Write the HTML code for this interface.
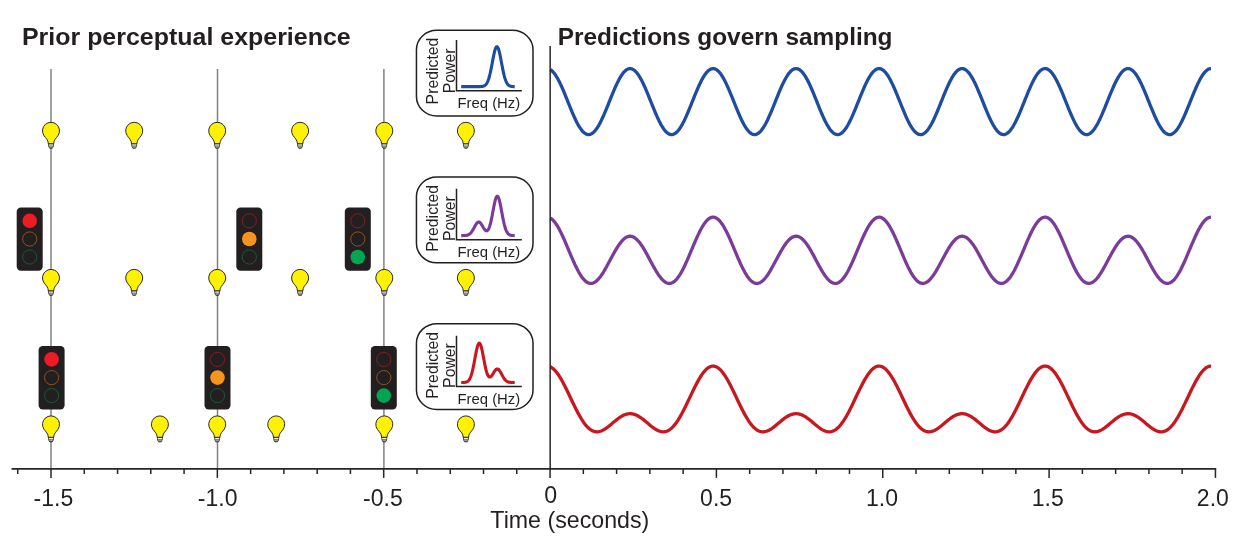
<!DOCTYPE html>
<html lang="en"><head><meta charset="utf-8"><title>Predictions govern sampling</title>
<style>html,body{margin:0;padding:0;background:#fff;overflow:hidden}svg{display:block}text{font-family:'Liberation Sans', 'DejaVu Sans', sans-serif;fill:#231f20}.b{font-weight:bold}</style></head><body>
<svg width="1243" height="538" viewBox="0 0 1243 538">
<rect width="1243" height="538" fill="#ffffff"/>
<line x1="51" y1="69" x2="51" y2="468.5" stroke="#808285" stroke-width="1.5"/>
<line x1="217.5" y1="69" x2="217.5" y2="468.5" stroke="#808285" stroke-width="1.5"/>
<line x1="383.9" y1="69" x2="383.9" y2="468.5" stroke="#808285" stroke-width="1.5"/>
<g transform="translate(29.7,207.4)">
<rect x="-13" y="0" width="26" height="63.4" rx="4.2" ry="4.2" fill="#231f20"/>
<circle cx="0" cy="13.4" r="7.3" fill="#ed1c24"/>
<circle cx="0" cy="31.6" r="7.1" fill="none" stroke="#a5661f" stroke-width="0.75"/>
<circle cx="0" cy="49.6" r="7.1" fill="none" stroke="#176b3c" stroke-width="0.75"/>
</g>
<g transform="translate(249.3,207.4)">
<rect x="-13" y="0" width="26" height="63.4" rx="4.2" ry="4.2" fill="#231f20"/>
<circle cx="0" cy="13.4" r="7.1" fill="none" stroke="#9a2329" stroke-width="0.75"/>
<circle cx="0" cy="31.6" r="7.3" fill="#f7941d"/>
<circle cx="0" cy="49.6" r="7.1" fill="none" stroke="#176b3c" stroke-width="0.75"/>
</g>
<g transform="translate(357.8,207.4)">
<rect x="-13" y="0" width="26" height="63.4" rx="4.2" ry="4.2" fill="#231f20"/>
<circle cx="0" cy="13.4" r="7.1" fill="none" stroke="#9a2329" stroke-width="0.75"/>
<circle cx="0" cy="31.6" r="7.1" fill="none" stroke="#a5661f" stroke-width="0.75"/>
<circle cx="0" cy="49.6" r="7.3" fill="#00a651"/>
</g>
<g transform="translate(51.6,346)">
<rect x="-13" y="0" width="26" height="63.4" rx="4.2" ry="4.2" fill="#231f20"/>
<circle cx="0" cy="13.4" r="7.3" fill="#ed1c24"/>
<circle cx="0" cy="31.6" r="7.1" fill="none" stroke="#a5661f" stroke-width="0.75"/>
<circle cx="0" cy="49.6" r="7.1" fill="none" stroke="#176b3c" stroke-width="0.75"/>
</g>
<g transform="translate(217.5,346)">
<rect x="-13" y="0" width="26" height="63.4" rx="4.2" ry="4.2" fill="#231f20"/>
<circle cx="0" cy="13.4" r="7.1" fill="none" stroke="#9a2329" stroke-width="0.75"/>
<circle cx="0" cy="31.6" r="7.3" fill="#f7941d"/>
<circle cx="0" cy="49.6" r="7.1" fill="none" stroke="#176b3c" stroke-width="0.75"/>
</g>
<g transform="translate(383.8,346)">
<rect x="-13" y="0" width="26" height="63.4" rx="4.2" ry="4.2" fill="#231f20"/>
<circle cx="0" cy="13.4" r="7.1" fill="none" stroke="#9a2329" stroke-width="0.75"/>
<circle cx="0" cy="31.6" r="7.1" fill="none" stroke="#a5661f" stroke-width="0.75"/>
<circle cx="0" cy="49.6" r="7.3" fill="#00a651"/>
</g>
<g transform="translate(51,130.8)">
<path d="M-2.6,12.6 L2.6,12.6 L2.3,15.6 L1.3,17.5 L-1.3,17.5 L-2.3,15.6 Z" fill="#7c7c7c" stroke="#262626" stroke-width="0.75" stroke-linejoin="round"/>
<path d="M-2,14.1 L2,14.1" stroke="#f2f2f2" stroke-width="1.1"/>
<path d="M-1.6,16 L1.6,16" stroke="#bdbdbd" stroke-width="0.6"/>
<path d="M-2.7,12.9 C-2.7,9.3 -5.24,7.34 -6.96,4.88 A8.5,8.5 0 1 1 6.96,4.88 C5.24,7.34 2.7,9.3 2.7,12.9 Z" fill="#fff200" stroke="#202020" stroke-width="0.95" stroke-linejoin="round"/>
</g>
<g transform="translate(134.2,130.8)">
<path d="M-2.6,12.6 L2.6,12.6 L2.3,15.6 L1.3,17.5 L-1.3,17.5 L-2.3,15.6 Z" fill="#7c7c7c" stroke="#262626" stroke-width="0.75" stroke-linejoin="round"/>
<path d="M-2,14.1 L2,14.1" stroke="#f2f2f2" stroke-width="1.1"/>
<path d="M-1.6,16 L1.6,16" stroke="#bdbdbd" stroke-width="0.6"/>
<path d="M-2.7,12.9 C-2.7,9.3 -5.24,7.34 -6.96,4.88 A8.5,8.5 0 1 1 6.96,4.88 C5.24,7.34 2.7,9.3 2.7,12.9 Z" fill="#fff200" stroke="#202020" stroke-width="0.95" stroke-linejoin="round"/>
</g>
<g transform="translate(217.2,130.8)">
<path d="M-2.6,12.6 L2.6,12.6 L2.3,15.6 L1.3,17.5 L-1.3,17.5 L-2.3,15.6 Z" fill="#7c7c7c" stroke="#262626" stroke-width="0.75" stroke-linejoin="round"/>
<path d="M-2,14.1 L2,14.1" stroke="#f2f2f2" stroke-width="1.1"/>
<path d="M-1.6,16 L1.6,16" stroke="#bdbdbd" stroke-width="0.6"/>
<path d="M-2.7,12.9 C-2.7,9.3 -5.24,7.34 -6.96,4.88 A8.5,8.5 0 1 1 6.96,4.88 C5.24,7.34 2.7,9.3 2.7,12.9 Z" fill="#fff200" stroke="#202020" stroke-width="0.95" stroke-linejoin="round"/>
</g>
<g transform="translate(300.1,130.8)">
<path d="M-2.6,12.6 L2.6,12.6 L2.3,15.6 L1.3,17.5 L-1.3,17.5 L-2.3,15.6 Z" fill="#7c7c7c" stroke="#262626" stroke-width="0.75" stroke-linejoin="round"/>
<path d="M-2,14.1 L2,14.1" stroke="#f2f2f2" stroke-width="1.1"/>
<path d="M-1.6,16 L1.6,16" stroke="#bdbdbd" stroke-width="0.6"/>
<path d="M-2.7,12.9 C-2.7,9.3 -5.24,7.34 -6.96,4.88 A8.5,8.5 0 1 1 6.96,4.88 C5.24,7.34 2.7,9.3 2.7,12.9 Z" fill="#fff200" stroke="#202020" stroke-width="0.95" stroke-linejoin="round"/>
</g>
<g transform="translate(384.3,130.8)">
<path d="M-2.6,12.6 L2.6,12.6 L2.3,15.6 L1.3,17.5 L-1.3,17.5 L-2.3,15.6 Z" fill="#7c7c7c" stroke="#262626" stroke-width="0.75" stroke-linejoin="round"/>
<path d="M-2,14.1 L2,14.1" stroke="#f2f2f2" stroke-width="1.1"/>
<path d="M-1.6,16 L1.6,16" stroke="#bdbdbd" stroke-width="0.6"/>
<path d="M-2.7,12.9 C-2.7,9.3 -5.24,7.34 -6.96,4.88 A8.5,8.5 0 1 1 6.96,4.88 C5.24,7.34 2.7,9.3 2.7,12.9 Z" fill="#fff200" stroke="#202020" stroke-width="0.95" stroke-linejoin="round"/>
</g>
<g transform="translate(465.9,130.8)">
<path d="M-2.6,12.6 L2.6,12.6 L2.3,15.6 L1.3,17.5 L-1.3,17.5 L-2.3,15.6 Z" fill="#7c7c7c" stroke="#262626" stroke-width="0.75" stroke-linejoin="round"/>
<path d="M-2,14.1 L2,14.1" stroke="#f2f2f2" stroke-width="1.1"/>
<path d="M-1.6,16 L1.6,16" stroke="#bdbdbd" stroke-width="0.6"/>
<path d="M-2.7,12.9 C-2.7,9.3 -5.24,7.34 -6.96,4.88 A8.5,8.5 0 1 1 6.96,4.88 C5.24,7.34 2.7,9.3 2.7,12.9 Z" fill="#fff200" stroke="#202020" stroke-width="0.95" stroke-linejoin="round"/>
</g>
<g transform="translate(51,277.9)">
<path d="M-2.6,12.6 L2.6,12.6 L2.3,15.6 L1.3,17.5 L-1.3,17.5 L-2.3,15.6 Z" fill="#7c7c7c" stroke="#262626" stroke-width="0.75" stroke-linejoin="round"/>
<path d="M-2,14.1 L2,14.1" stroke="#f2f2f2" stroke-width="1.1"/>
<path d="M-1.6,16 L1.6,16" stroke="#bdbdbd" stroke-width="0.6"/>
<path d="M-2.7,12.9 C-2.7,9.3 -5.24,7.34 -6.96,4.88 A8.5,8.5 0 1 1 6.96,4.88 C5.24,7.34 2.7,9.3 2.7,12.9 Z" fill="#fff200" stroke="#202020" stroke-width="0.95" stroke-linejoin="round"/>
</g>
<g transform="translate(134.2,277.9)">
<path d="M-2.6,12.6 L2.6,12.6 L2.3,15.6 L1.3,17.5 L-1.3,17.5 L-2.3,15.6 Z" fill="#7c7c7c" stroke="#262626" stroke-width="0.75" stroke-linejoin="round"/>
<path d="M-2,14.1 L2,14.1" stroke="#f2f2f2" stroke-width="1.1"/>
<path d="M-1.6,16 L1.6,16" stroke="#bdbdbd" stroke-width="0.6"/>
<path d="M-2.7,12.9 C-2.7,9.3 -5.24,7.34 -6.96,4.88 A8.5,8.5 0 1 1 6.96,4.88 C5.24,7.34 2.7,9.3 2.7,12.9 Z" fill="#fff200" stroke="#202020" stroke-width="0.95" stroke-linejoin="round"/>
</g>
<g transform="translate(217.2,277.9)">
<path d="M-2.6,12.6 L2.6,12.6 L2.3,15.6 L1.3,17.5 L-1.3,17.5 L-2.3,15.6 Z" fill="#7c7c7c" stroke="#262626" stroke-width="0.75" stroke-linejoin="round"/>
<path d="M-2,14.1 L2,14.1" stroke="#f2f2f2" stroke-width="1.1"/>
<path d="M-1.6,16 L1.6,16" stroke="#bdbdbd" stroke-width="0.6"/>
<path d="M-2.7,12.9 C-2.7,9.3 -5.24,7.34 -6.96,4.88 A8.5,8.5 0 1 1 6.96,4.88 C5.24,7.34 2.7,9.3 2.7,12.9 Z" fill="#fff200" stroke="#202020" stroke-width="0.95" stroke-linejoin="round"/>
</g>
<g transform="translate(300.1,277.9)">
<path d="M-2.6,12.6 L2.6,12.6 L2.3,15.6 L1.3,17.5 L-1.3,17.5 L-2.3,15.6 Z" fill="#7c7c7c" stroke="#262626" stroke-width="0.75" stroke-linejoin="round"/>
<path d="M-2,14.1 L2,14.1" stroke="#f2f2f2" stroke-width="1.1"/>
<path d="M-1.6,16 L1.6,16" stroke="#bdbdbd" stroke-width="0.6"/>
<path d="M-2.7,12.9 C-2.7,9.3 -5.24,7.34 -6.96,4.88 A8.5,8.5 0 1 1 6.96,4.88 C5.24,7.34 2.7,9.3 2.7,12.9 Z" fill="#fff200" stroke="#202020" stroke-width="0.95" stroke-linejoin="round"/>
</g>
<g transform="translate(384.3,277.9)">
<path d="M-2.6,12.6 L2.6,12.6 L2.3,15.6 L1.3,17.5 L-1.3,17.5 L-2.3,15.6 Z" fill="#7c7c7c" stroke="#262626" stroke-width="0.75" stroke-linejoin="round"/>
<path d="M-2,14.1 L2,14.1" stroke="#f2f2f2" stroke-width="1.1"/>
<path d="M-1.6,16 L1.6,16" stroke="#bdbdbd" stroke-width="0.6"/>
<path d="M-2.7,12.9 C-2.7,9.3 -5.24,7.34 -6.96,4.88 A8.5,8.5 0 1 1 6.96,4.88 C5.24,7.34 2.7,9.3 2.7,12.9 Z" fill="#fff200" stroke="#202020" stroke-width="0.95" stroke-linejoin="round"/>
</g>
<g transform="translate(465.9,277.9)">
<path d="M-2.6,12.6 L2.6,12.6 L2.3,15.6 L1.3,17.5 L-1.3,17.5 L-2.3,15.6 Z" fill="#7c7c7c" stroke="#262626" stroke-width="0.75" stroke-linejoin="round"/>
<path d="M-2,14.1 L2,14.1" stroke="#f2f2f2" stroke-width="1.1"/>
<path d="M-1.6,16 L1.6,16" stroke="#bdbdbd" stroke-width="0.6"/>
<path d="M-2.7,12.9 C-2.7,9.3 -5.24,7.34 -6.96,4.88 A8.5,8.5 0 1 1 6.96,4.88 C5.24,7.34 2.7,9.3 2.7,12.9 Z" fill="#fff200" stroke="#202020" stroke-width="0.95" stroke-linejoin="round"/>
</g>
<g transform="translate(51,424.4)">
<path d="M-2.6,12.6 L2.6,12.6 L2.3,15.6 L1.3,17.5 L-1.3,17.5 L-2.3,15.6 Z" fill="#7c7c7c" stroke="#262626" stroke-width="0.75" stroke-linejoin="round"/>
<path d="M-2,14.1 L2,14.1" stroke="#f2f2f2" stroke-width="1.1"/>
<path d="M-1.6,16 L1.6,16" stroke="#bdbdbd" stroke-width="0.6"/>
<path d="M-2.7,12.9 C-2.7,9.3 -5.24,7.34 -6.96,4.88 A8.5,8.5 0 1 1 6.96,4.88 C5.24,7.34 2.7,9.3 2.7,12.9 Z" fill="#fff200" stroke="#202020" stroke-width="0.95" stroke-linejoin="round"/>
</g>
<g transform="translate(159.9,424.4)">
<path d="M-2.6,12.6 L2.6,12.6 L2.3,15.6 L1.3,17.5 L-1.3,17.5 L-2.3,15.6 Z" fill="#7c7c7c" stroke="#262626" stroke-width="0.75" stroke-linejoin="round"/>
<path d="M-2,14.1 L2,14.1" stroke="#f2f2f2" stroke-width="1.1"/>
<path d="M-1.6,16 L1.6,16" stroke="#bdbdbd" stroke-width="0.6"/>
<path d="M-2.7,12.9 C-2.7,9.3 -5.24,7.34 -6.96,4.88 A8.5,8.5 0 1 1 6.96,4.88 C5.24,7.34 2.7,9.3 2.7,12.9 Z" fill="#fff200" stroke="#202020" stroke-width="0.95" stroke-linejoin="round"/>
</g>
<g transform="translate(217.2,424.4)">
<path d="M-2.6,12.6 L2.6,12.6 L2.3,15.6 L1.3,17.5 L-1.3,17.5 L-2.3,15.6 Z" fill="#7c7c7c" stroke="#262626" stroke-width="0.75" stroke-linejoin="round"/>
<path d="M-2,14.1 L2,14.1" stroke="#f2f2f2" stroke-width="1.1"/>
<path d="M-1.6,16 L1.6,16" stroke="#bdbdbd" stroke-width="0.6"/>
<path d="M-2.7,12.9 C-2.7,9.3 -5.24,7.34 -6.96,4.88 A8.5,8.5 0 1 1 6.96,4.88 C5.24,7.34 2.7,9.3 2.7,12.9 Z" fill="#fff200" stroke="#202020" stroke-width="0.95" stroke-linejoin="round"/>
</g>
<g transform="translate(276.2,424.4)">
<path d="M-2.6,12.6 L2.6,12.6 L2.3,15.6 L1.3,17.5 L-1.3,17.5 L-2.3,15.6 Z" fill="#7c7c7c" stroke="#262626" stroke-width="0.75" stroke-linejoin="round"/>
<path d="M-2,14.1 L2,14.1" stroke="#f2f2f2" stroke-width="1.1"/>
<path d="M-1.6,16 L1.6,16" stroke="#bdbdbd" stroke-width="0.6"/>
<path d="M-2.7,12.9 C-2.7,9.3 -5.24,7.34 -6.96,4.88 A8.5,8.5 0 1 1 6.96,4.88 C5.24,7.34 2.7,9.3 2.7,12.9 Z" fill="#fff200" stroke="#202020" stroke-width="0.95" stroke-linejoin="round"/>
</g>
<g transform="translate(384.3,424.4)">
<path d="M-2.6,12.6 L2.6,12.6 L2.3,15.6 L1.3,17.5 L-1.3,17.5 L-2.3,15.6 Z" fill="#7c7c7c" stroke="#262626" stroke-width="0.75" stroke-linejoin="round"/>
<path d="M-2,14.1 L2,14.1" stroke="#f2f2f2" stroke-width="1.1"/>
<path d="M-1.6,16 L1.6,16" stroke="#bdbdbd" stroke-width="0.6"/>
<path d="M-2.7,12.9 C-2.7,9.3 -5.24,7.34 -6.96,4.88 A8.5,8.5 0 1 1 6.96,4.88 C5.24,7.34 2.7,9.3 2.7,12.9 Z" fill="#fff200" stroke="#202020" stroke-width="0.95" stroke-linejoin="round"/>
</g>
<g transform="translate(465.9,424.4)">
<path d="M-2.6,12.6 L2.6,12.6 L2.3,15.6 L1.3,17.5 L-1.3,17.5 L-2.3,15.6 Z" fill="#7c7c7c" stroke="#262626" stroke-width="0.75" stroke-linejoin="round"/>
<path d="M-2,14.1 L2,14.1" stroke="#f2f2f2" stroke-width="1.1"/>
<path d="M-1.6,16 L1.6,16" stroke="#bdbdbd" stroke-width="0.6"/>
<path d="M-2.7,12.9 C-2.7,9.3 -5.24,7.34 -6.96,4.88 A8.5,8.5 0 1 1 6.96,4.88 C5.24,7.34 2.7,9.3 2.7,12.9 Z" fill="#fff200" stroke="#202020" stroke-width="0.95" stroke-linejoin="round"/>
</g>
<rect x="416.45" y="30.3" width="116.55" height="85.7" rx="20.5" ry="19.5" fill="#ffffff" stroke="#231f20" stroke-width="1.5"/>
<path d="M456.5,39.9 L456.5,90.7 L521.8,90.7" fill="none" stroke="#231f20" stroke-width="1.5"/>
<polyline points="461.2,86.65 461.53,86.65 461.87,86.65 462.2,86.65 462.54,86.65 462.87,86.65 463.21,86.65 463.54,86.65 463.88,86.65 464.21,86.65 464.54,86.65 464.88,86.65 465.21,86.65 465.55,86.65 465.88,86.65 466.22,86.65 466.55,86.65 466.88,86.65 467.22,86.65 467.55,86.65 467.89,86.65 468.22,86.65 468.56,86.65 468.89,86.65 469.23,86.65 469.56,86.65 469.89,86.65 470.23,86.65 470.56,86.65 470.9,86.65 471.23,86.65 471.57,86.65 471.9,86.65 472.23,86.65 472.57,86.65 472.9,86.65 473.24,86.65 473.57,86.65 473.91,86.65 474.24,86.65 474.57,86.65 474.91,86.65 475.24,86.65 475.58,86.65 475.91,86.65 476.25,86.65 476.58,86.65 476.92,86.65 477.25,86.65 477.58,86.65 477.92,86.64 478.25,86.64 478.59,86.64 478.92,86.63 479.26,86.63 479.59,86.62 479.93,86.61 480.26,86.6 480.59,86.58 480.93,86.57 481.26,86.54 481.6,86.51 481.93,86.47 482.27,86.42 482.6,86.36 482.93,86.29 483.27,86.2 483.6,86.09 483.94,85.96 484.27,85.8 484.61,85.61 484.94,85.39 485.28,85.12 485.61,84.81 485.94,84.45 486.28,84.03 486.61,83.55 486.95,82.99 487.28,82.37 487.62,81.66 487.95,80.87 488.28,79.99 488.62,79.02 488.95,77.95 489.29,76.78 489.62,75.52 489.96,74.17 490.29,72.72 490.62,71.2 490.96,69.59 491.29,67.93 491.63,66.21 491.96,64.45 492.3,62.67 492.63,60.89 492.97,59.13 493.3,57.4 493.63,55.73 493.97,54.15 494.3,52.66 494.64,51.3 494.97,50.08 495.31,49.03 495.64,48.15 495.98,47.47 496.31,46.99 496.64,46.71 496.98,46.66 497.31,46.81 497.65,47.19 497.98,47.76 498.32,48.54 498.65,49.5 498.98,50.63 499.32,51.92 499.65,53.34 499.99,54.88 500.32,56.5 500.66,58.2 500.99,59.95 501.33,61.72 501.66,63.5 501.99,65.27 502.33,67.02 502.66,68.71 503,70.35 503.33,71.92 503.67,73.41 504,74.81 504.33,76.12 504.67,77.34 505,78.46 505.34,79.48 505.67,80.41 506.01,81.25 506.34,82 506.68,82.67 507.01,83.26 507.34,83.78 507.68,84.23 508.01,84.62 508.35,84.96 508.68,85.25 509.02,85.5 509.35,85.7 509.68,85.88 510.02,86.02 510.35,86.14 510.69,86.24 511.02,86.33 511.36,86.39 511.69,86.45 512.03,86.49 512.36,86.53 512.69,86.55 513.03,86.58 513.36,86.59 513.7,86.61 514.03,86.62 514.37,86.62 514.7,86.63" fill="none" stroke="#1e4ca1" stroke-width="3.1" stroke-linejoin="round"/>
<text transform="translate(438.3,104.4) rotate(-90)" font-size="15.8" class="t">Predicted</text>
<text transform="translate(455.4,93.3) rotate(-90)" font-size="15.8" class="t">Power</text>
<text x="457.5" y="108.3" font-size="14.85" class="t">Freq (Hz)</text>
<rect x="416.45" y="177.1" width="116.55" height="85.7" rx="20.5" ry="19.5" fill="#ffffff" stroke="#231f20" stroke-width="1.5"/>
<path d="M456.5,188.85 L456.5,239.65 L521.8,239.65" fill="none" stroke="#231f20" stroke-width="1.5"/>
<polyline points="461.2,235.6 461.53,235.59 461.87,235.59 462.2,235.59 462.54,235.58 462.87,235.58 463.21,235.57 463.54,235.56 463.88,235.55 464.21,235.54 464.54,235.52 464.88,235.5 465.21,235.48 465.55,235.44 465.88,235.4 466.22,235.36 466.55,235.3 466.88,235.23 467.22,235.15 467.55,235.05 467.89,234.94 468.22,234.8 468.56,234.65 468.89,234.47 469.23,234.26 469.56,234.03 469.89,233.76 470.23,233.47 470.56,233.14 470.9,232.78 471.23,232.38 471.57,231.95 471.9,231.48 472.23,230.98 472.57,230.45 472.9,229.89 473.24,229.31 473.57,228.7 473.91,228.09 474.24,227.46 474.57,226.84 474.91,226.22 475.24,225.61 475.58,225.03 475.91,224.47 476.25,223.96 476.58,223.49 476.92,223.07 477.25,222.72 477.58,222.43 477.92,222.21 478.25,222.07 478.59,222 478.92,222.01 479.26,222.1 479.59,222.26 479.93,222.5 480.26,222.81 480.59,223.17 480.93,223.6 481.26,224.07 481.6,224.58 481.93,225.13 482.27,225.69 482.6,226.27 482.93,226.85 483.27,227.42 483.6,227.98 483.94,228.51 484.27,229.01 484.61,229.46 484.94,229.86 485.28,230.21 485.61,230.48 485.94,230.68 486.28,230.8 486.61,230.84 486.95,230.78 487.28,230.62 487.62,230.36 487.95,229.99 488.28,229.5 488.62,228.9 488.95,228.18 489.29,227.34 489.62,226.38 489.96,225.3 490.29,224.1 490.62,222.79 490.96,221.37 491.29,219.85 491.63,218.25 491.96,216.58 492.3,214.84 492.63,213.07 492.97,211.28 493.3,209.48 493.63,207.71 493.97,205.99 494.3,204.33 494.64,202.77 494.97,201.33 495.31,200.03 495.64,198.9 495.98,197.94 496.31,197.18 496.64,196.63 496.98,196.3 497.31,196.2 497.65,196.32 497.98,196.67 498.32,197.24 498.65,198.01 498.98,198.98 499.32,200.14 499.65,201.45 499.99,202.9 500.32,204.48 500.66,206.15 500.99,207.88 501.33,209.67 501.66,211.48 501.99,213.3 502.33,215.09 502.66,216.85 503,218.56 503.33,220.2 503.67,221.76 504,223.24 504.33,224.62 504.67,225.91 505,227.09 505.34,228.17 505.67,229.15 506.01,230.04 506.34,230.83 506.68,231.53 507.01,232.15 507.34,232.69 507.68,233.16 508.01,233.57 508.35,233.91 508.68,234.21 509.02,234.46 509.35,234.67 509.68,234.85 510.02,235 510.35,235.12 510.69,235.22 511.02,235.3 511.36,235.36 511.69,235.41 512.03,235.45 512.36,235.49 512.69,235.51 513.03,235.53 513.36,235.55 513.7,235.56 514.03,235.57 514.37,235.58 514.7,235.58" fill="none" stroke="#7a3b99" stroke-width="3.1" stroke-linejoin="round"/>
<text transform="translate(438.3,251.75) rotate(-90)" font-size="15.8" class="t">Predicted</text>
<text transform="translate(455.4,240.95) rotate(-90)" font-size="15.8" class="t">Power</text>
<text x="457.5" y="256.65" font-size="14.85" class="t">Freq (Hz)</text>
<rect x="416.45" y="323.7" width="116.55" height="85.7" rx="20.5" ry="19.5" fill="#ffffff" stroke="#231f20" stroke-width="1.5"/>
<path d="M456.5,335.8 L456.5,386.6 L521.8,386.6" fill="none" stroke="#231f20" stroke-width="1.5"/>
<polyline points="461.2,382.54 461.53,382.54 461.87,382.53 462.2,382.53 462.54,382.52 462.87,382.51 463.21,382.5 463.54,382.49 463.88,382.47 464.21,382.44 464.54,382.41 464.88,382.37 465.21,382.32 465.55,382.25 465.88,382.17 466.22,382.08 466.55,381.96 466.88,381.81 467.22,381.64 467.55,381.43 467.89,381.19 468.22,380.89 468.56,380.55 468.89,380.15 469.23,379.69 469.56,379.15 469.89,378.54 470.23,377.85 470.56,377.06 470.9,376.19 471.23,375.22 471.57,374.15 471.9,372.97 472.23,371.7 472.57,370.32 472.9,368.86 473.24,367.3 473.57,365.67 473.91,363.96 474.24,362.21 474.57,360.41 474.91,358.6 475.24,356.79 475.58,355 475.91,353.26 476.25,351.58 476.58,350 476.92,348.53 477.25,347.2 477.58,346.03 477.92,345.04 478.25,344.25 478.59,343.66 478.92,343.29 479.26,343.15 479.59,343.23 479.93,343.54 480.26,344.07 480.59,344.81 480.93,345.74 481.26,346.86 481.6,348.15 481.93,349.57 482.27,351.12 482.6,352.76 482.93,354.47 483.27,356.23 483.6,358.02 483.94,359.81 484.27,361.57 484.61,363.3 484.94,364.96 485.28,366.56 485.61,368.06 485.94,369.46 486.28,370.76 486.61,371.94 486.95,372.99 487.28,373.93 487.62,374.74 487.95,375.42 488.28,375.98 488.62,376.43 488.95,376.75 489.29,376.96 489.62,377.07 489.96,377.07 490.29,376.99 490.62,376.81 490.96,376.56 491.29,376.23 491.63,375.85 491.96,375.41 492.3,374.92 492.63,374.4 492.97,373.86 493.3,373.3 493.63,372.74 493.97,372.19 494.3,371.65 494.64,371.13 494.97,370.66 495.31,370.22 495.64,369.84 495.98,369.52 496.31,369.27 496.64,369.08 496.98,368.97 497.31,368.94 497.65,368.99 497.98,369.11 498.32,369.3 498.65,369.57 498.98,369.91 499.32,370.31 499.65,370.76 499.99,371.26 500.32,371.81 500.66,372.38 500.99,372.98 501.33,373.6 501.66,374.22 501.99,374.85 502.33,375.47 502.66,376.08 503,376.67 503.33,377.23 503.67,377.77 504,378.28 504.33,378.76 504.67,379.2 505,379.61 505.34,379.99 505.67,380.32 506.01,380.63 506.34,380.9 506.68,381.14 507.01,381.36 507.34,381.55 507.68,381.71 508.01,381.85 508.35,381.97 508.68,382.07 509.02,382.16 509.35,382.23 509.68,382.29 510.02,382.34 510.35,382.38 510.69,382.42 511.02,382.44 511.36,382.47 511.69,382.49 512.03,382.5 512.36,382.51 512.69,382.52 513.03,382.53 513.36,382.53 513.7,382.54 514.03,382.54 514.37,382.54 514.7,382.54" fill="none" stroke="#c8171f" stroke-width="3.1" stroke-linejoin="round"/>
<text transform="translate(438.3,398.7) rotate(-90)" font-size="15.8" class="t">Predicted</text>
<text transform="translate(455.4,387.9) rotate(-90)" font-size="15.8" class="t">Power</text>
<text x="457.5" y="403.6" font-size="14.85" class="t">Freq (Hz)</text>
<line x1="11.5" y1="468.8" x2="1216.2" y2="468.8" stroke="#282526" stroke-width="1.8"/>
<line x1="17.73" y1="468.75" x2="17.73" y2="474" stroke="#282526" stroke-width="1.5"/>
<line x1="51" y1="468.75" x2="51" y2="477.9" stroke="#282526" stroke-width="1.5"/>
<line x1="84.27" y1="468.75" x2="84.27" y2="474" stroke="#282526" stroke-width="1.5"/>
<line x1="117.54" y1="468.75" x2="117.54" y2="474" stroke="#282526" stroke-width="1.5"/>
<line x1="150.81" y1="468.75" x2="150.81" y2="474" stroke="#282526" stroke-width="1.5"/>
<line x1="184.08" y1="468.75" x2="184.08" y2="474" stroke="#282526" stroke-width="1.5"/>
<line x1="217.35" y1="468.75" x2="217.35" y2="477.9" stroke="#282526" stroke-width="1.5"/>
<line x1="250.62" y1="468.75" x2="250.62" y2="474" stroke="#282526" stroke-width="1.5"/>
<line x1="283.89" y1="468.75" x2="283.89" y2="474" stroke="#282526" stroke-width="1.5"/>
<line x1="317.16" y1="468.75" x2="317.16" y2="474" stroke="#282526" stroke-width="1.5"/>
<line x1="350.43" y1="468.75" x2="350.43" y2="474" stroke="#282526" stroke-width="1.5"/>
<line x1="383.7" y1="468.75" x2="383.7" y2="477.9" stroke="#282526" stroke-width="1.5"/>
<line x1="416.97" y1="468.75" x2="416.97" y2="474" stroke="#282526" stroke-width="1.5"/>
<line x1="450.24" y1="468.75" x2="450.24" y2="474" stroke="#282526" stroke-width="1.5"/>
<line x1="483.51" y1="468.75" x2="483.51" y2="474" stroke="#282526" stroke-width="1.5"/>
<line x1="516.78" y1="468.75" x2="516.78" y2="474" stroke="#282526" stroke-width="1.5"/>
<line x1="550.05" y1="468.75" x2="550.05" y2="477.9" stroke="#282526" stroke-width="1.5"/>
<line x1="583.32" y1="468.75" x2="583.32" y2="474" stroke="#282526" stroke-width="1.5"/>
<line x1="616.59" y1="468.75" x2="616.59" y2="474" stroke="#282526" stroke-width="1.5"/>
<line x1="649.86" y1="468.75" x2="649.86" y2="474" stroke="#282526" stroke-width="1.5"/>
<line x1="683.13" y1="468.75" x2="683.13" y2="474" stroke="#282526" stroke-width="1.5"/>
<line x1="716.4" y1="468.75" x2="716.4" y2="477.9" stroke="#282526" stroke-width="1.5"/>
<line x1="749.67" y1="468.75" x2="749.67" y2="474" stroke="#282526" stroke-width="1.5"/>
<line x1="782.94" y1="468.75" x2="782.94" y2="474" stroke="#282526" stroke-width="1.5"/>
<line x1="816.21" y1="468.75" x2="816.21" y2="474" stroke="#282526" stroke-width="1.5"/>
<line x1="849.48" y1="468.75" x2="849.48" y2="474" stroke="#282526" stroke-width="1.5"/>
<line x1="882.75" y1="468.75" x2="882.75" y2="477.9" stroke="#282526" stroke-width="1.5"/>
<line x1="916.02" y1="468.75" x2="916.02" y2="474" stroke="#282526" stroke-width="1.5"/>
<line x1="949.29" y1="468.75" x2="949.29" y2="474" stroke="#282526" stroke-width="1.5"/>
<line x1="982.56" y1="468.75" x2="982.56" y2="474" stroke="#282526" stroke-width="1.5"/>
<line x1="1015.83" y1="468.75" x2="1015.83" y2="474" stroke="#282526" stroke-width="1.5"/>
<line x1="1049.1" y1="468.75" x2="1049.1" y2="477.9" stroke="#282526" stroke-width="1.5"/>
<line x1="1082.37" y1="468.75" x2="1082.37" y2="474" stroke="#282526" stroke-width="1.5"/>
<line x1="1115.64" y1="468.75" x2="1115.64" y2="474" stroke="#282526" stroke-width="1.5"/>
<line x1="1148.91" y1="468.75" x2="1148.91" y2="474" stroke="#282526" stroke-width="1.5"/>
<line x1="1182.18" y1="468.75" x2="1182.18" y2="474" stroke="#282526" stroke-width="1.5"/>
<line x1="1215.45" y1="468.75" x2="1215.45" y2="477.9" stroke="#282526" stroke-width="1.5"/>
<text x="53.4" y="505.7" font-size="23" text-anchor="middle">-1.5</text>
<text x="217.65" y="505.7" font-size="23" text-anchor="middle">-1.0</text>
<text x="382.9" y="505.7" font-size="23" text-anchor="middle">-0.5</text>
<text x="716.1" y="505.7" font-size="23" text-anchor="middle">0.5</text>
<text x="881.95" y="505.7" font-size="23" text-anchor="middle">1.0</text>
<text x="1047.8" y="505.7" font-size="23" text-anchor="middle">1.5</text>
<text x="1212.85" y="505.7" font-size="23" text-anchor="middle">2.0</text>
<text x="550.6" y="502.9" font-size="23.2" text-anchor="middle">0</text>
<text x="569.8" y="528.4" font-size="23.2" text-anchor="middle">Time (seconds)</text>
<text transform="translate(21.95,44.7) scale(1.058,1)" font-size="23.6" class="b">Prior perceptual experience</text>
<text transform="translate(557.65,44.6) scale(1.034,1)" font-size="23.6" class="b">Predictions govern sampling</text>
<polyline points="550.3,69.56 551.24,70.21 552.19,71.02 553.13,71.98 554.08,73.1 555.02,74.36 555.96,75.76 556.91,77.29 557.85,78.94 558.79,80.71 559.74,82.59 560.68,84.56 561.63,86.63 562.57,88.76 563.51,90.97 564.46,93.22 565.4,95.52 566.35,97.86 567.29,100.21 568.23,102.56 569.18,104.92 570.12,107.25 571.06,109.56 572.01,111.83 572.95,114.04 573.9,116.19 574.84,118.27 575.78,120.26 576.73,122.15 577.67,123.94 578.62,125.62 579.56,127.18 580.5,128.6 581.45,129.88 582.39,131.03 583.33,132.02 584.28,132.85 585.22,133.53 586.17,134.04 587.11,134.39 588.05,134.57 589,134.58 589.94,134.43 590.89,134.1 591.83,133.62 592.77,132.96 593.72,132.15 594.66,131.18 595.61,130.06 596.55,128.8 597.49,127.39 598.44,125.86 599.38,124.2 600.32,122.42 601.27,120.54 602.21,118.56 603.16,116.5 604.1,114.36 605.04,112.15 605.99,109.89 606.93,107.59 607.88,105.26 608.82,102.91 609.76,100.55 610.71,98.2 611.65,95.86 612.59,93.56 613.54,91.29 614.48,89.08 615.43,86.93 616.37,84.86 617.31,82.87 618.26,80.98 619.2,79.19 620.15,77.52 621.09,75.97 622.03,74.55 622.98,73.27 623.92,72.13 624.86,71.15 625.81,70.32 626.75,69.65 627.7,69.14 628.64,68.8 629.58,68.62 630.53,68.62 631.47,68.78 632.42,69.11 633.36,69.61 634.3,70.26 635.25,71.08 636.19,72.06 637.13,73.18 638.08,74.45 639.02,75.86 639.97,77.4 640.91,79.07 641.85,80.85 642.8,82.73 643.74,84.71 644.69,86.78 645.63,88.92 646.57,91.13 647.52,93.39 648.46,95.69 649.4,98.03 650.35,100.38 651.29,102.74 652.24,105.09 653.18,107.42 654.12,109.73 655.07,111.99 656.01,114.2 656.96,116.35 657.9,118.42 658.84,120.4 659.79,122.29 660.73,124.07 661.68,125.74 662.62,127.28 663.56,128.7 664.51,129.97 665.45,131.1 666.39,132.08 667.34,132.91 668.28,133.57 669.23,134.08 670.17,134.41 671.11,134.58 672.06,134.58 673,134.41 673.95,134.07 674.89,133.57 675.83,132.91 676.78,132.08 677.72,131.1 678.66,129.97 679.61,128.7 680.55,127.28 681.5,125.74 682.44,124.07 683.38,122.29 684.33,120.4 685.27,118.41 686.22,116.34 687.16,114.2 688.1,111.99 689.05,109.72 689.99,107.42 690.93,105.09 691.88,102.73 692.82,100.38 693.77,98.02 694.71,95.69 695.65,93.39 696.6,91.13 697.54,88.92 698.49,86.78 699.43,84.71 700.37,82.73 701.32,80.84 702.26,79.07 703.2,77.4 704.15,75.86 705.09,74.45 706.04,73.18 706.98,72.06 707.92,71.08 708.87,70.26 709.81,69.61 710.76,69.11 711.7,68.78 712.64,68.62 713.59,68.62 714.53,68.8 715.47,69.14 716.42,69.65 717.36,70.32 718.31,71.15 719.25,72.14 720.19,73.27 721.14,74.55 722.08,75.97 723.03,77.52 723.97,79.19 724.91,80.98 725.86,82.87 726.8,84.86 727.75,86.94 728.69,89.08 729.63,91.3 730.58,93.56 731.52,95.87 732.46,98.2 733.41,100.55 734.35,102.91 735.3,105.26 736.24,107.59 737.18,109.9 738.13,112.15 739.07,114.36 740.02,116.5 740.96,118.56 741.9,120.54 742.85,122.42 743.79,124.2 744.73,125.86 745.68,127.39 746.62,128.8 747.57,130.06 748.51,131.18 749.45,132.15 750.4,132.96 751.34,133.62 752.29,134.11 753.23,134.43 754.17,134.58 755.12,134.57 756.06,134.39 757,134.04 757.95,133.53 758.89,132.85 759.84,132.02 760.78,131.02 761.72,129.88 762.67,128.6 763.61,127.17 764.56,125.62 765.5,123.94 766.44,122.15 767.39,120.25 768.33,118.26 769.27,116.19 770.22,114.04 771.16,111.82 772.11,109.56 773.05,107.25 773.99,104.91 774.94,102.56 775.88,100.2 776.83,97.85 777.77,95.52 778.71,93.22 779.66,90.96 780.6,88.76 781.54,86.62 782.49,84.56 783.43,82.59 784.38,80.71 785.32,78.94 786.26,77.28 787.21,75.75 788.15,74.35 789.1,73.09 790.04,71.98 790.98,71.02 791.93,70.21 792.87,69.56 793.82,69.08 794.76,68.76 795.7,68.61 796.65,68.63 797.59,68.82 798.53,69.17 799.48,69.69 800.42,70.38 801.37,71.22 802.31,72.21 803.25,73.36 804.2,74.65 805.14,76.08 806.09,77.64 807.03,79.32 807.97,81.12 808.92,83.02 809.86,85.01 810.8,87.09 811.75,89.24 812.69,91.46 813.64,93.73 814.58,96.04 815.52,98.37 816.47,100.73 817.41,103.08 818.36,105.43 819.3,107.76 820.24,110.06 821.19,112.32 822.13,114.52 823.07,116.66 824.02,118.71 824.96,120.68 825.91,122.56 826.85,124.32 827.79,125.97 828.74,127.5 829.68,128.89 830.63,130.15 831.57,131.26 832.51,132.22 833.46,133.02 834.4,133.66 835.34,134.13 836.29,134.45 837.23,134.59 838.18,134.56 839.12,134.37 840.06,134.01 841.01,133.49 841.95,132.8 842.9,131.95 843.84,130.95 844.78,129.79 845.73,128.5 846.67,127.06 847.62,125.5 848.56,123.81 849.5,122.01 850.45,120.11 851.39,118.11 852.33,116.03 853.28,113.88 854.22,111.66 855.17,109.39 856.11,107.08 857.05,104.74 858,102.39 858.94,100.03 859.89,97.68 860.83,95.35 861.77,93.05 862.72,90.8 863.66,88.6 864.6,86.47 865.55,84.41 866.49,82.45 867.44,80.58 868.38,78.81 869.32,77.17 870.27,75.65 871.21,74.26 872.16,73.01 873.1,71.9 874.04,70.95 874.99,70.16 875.93,69.52 876.87,69.05 877.82,68.75 878.76,68.61 879.71,68.64 880.65,68.84 881.59,69.21 882.54,69.74 883.48,70.43 884.43,71.29 885.37,72.29 886.31,73.45 887.26,74.75 888.2,76.19 889.14,77.76 890.09,79.45 891.03,81.25 891.98,83.16 892.92,85.16 893.86,87.25 894.81,89.4 895.75,91.63 896.7,93.9 897.64,96.21 898.58,98.55 899.53,100.9 900.47,103.26 901.41,105.61 902.36,107.93 903.3,110.23 904.25,112.48 905.19,114.68 906.13,116.81 907.08,118.86 908.02,120.83 908.97,122.69 909.91,124.45 910.85,126.09 911.8,127.61 912.74,128.99 913.68,130.24 914.63,131.33 915.57,132.28 916.52,133.07 917.46,133.7 918.4,134.16 919.35,134.46 920.29,134.59 921.24,134.56 922.18,134.35 923.12,133.98 924.07,133.44 925.01,132.74 925.96,131.88 926.9,130.87 927.84,129.7 928.79,128.4 929.73,126.95 930.67,125.38 931.62,123.69 932.56,121.88 933.51,119.97 934.45,117.96 935.39,115.88 936.34,113.71 937.28,111.49 938.23,109.22 939.17,106.91 940.11,104.57 941.06,102.21 942,99.86 942.94,97.51 943.89,95.18 944.83,92.89 945.78,90.64 946.72,88.44 947.66,86.31 948.61,84.26 949.55,82.3 950.5,80.44 951.44,78.69 952.38,77.05 953.33,75.54 954.27,74.16 955.21,72.92 956.16,71.83 957.1,70.89 958.05,70.1 958.99,69.48 959.93,69.02 960.88,68.73 961.82,68.6 962.77,68.65 963.71,68.86 964.65,69.24 965.6,69.78 966.54,70.49 967.48,71.35 968.43,72.37 969.37,73.54 970.32,74.85 971.26,76.3 972.2,77.88 973.15,79.58 974.09,81.39 975.04,83.3 975.98,85.31 976.92,87.4 977.87,89.57 978.81,91.79 979.75,94.07 980.7,96.38 981.64,98.72 982.59,101.07 983.53,103.43 984.47,105.78 985.42,108.1 986.36,110.4 987.31,112.65 988.25,114.84 989.19,116.96 990.14,119.01 991.08,120.97 992.03,122.82 992.97,124.57 993.91,126.21 994.86,127.71 995.8,129.09 996.74,130.32 997.69,131.41 998.63,132.34 999.58,133.12 1000.52,133.74 1001.46,134.19 1002.41,134.48 1003.35,134.6 1004.3,134.55 1005.24,134.33 1006.18,133.94 1007.13,133.39 1008.07,132.68 1009.01,131.81 1009.96,130.79 1010.9,129.61 1011.85,128.29 1012.79,126.84 1013.73,125.26 1014.68,123.56 1015.62,121.74 1016.57,119.82 1017.51,117.81 1018.45,115.72 1019.4,113.55 1020.34,111.33 1021.28,109.05 1022.23,106.74 1023.17,104.4 1024.12,102.04 1025.06,99.68 1026,97.34 1026.95,95.01 1027.89,92.72 1028.84,90.47 1029.78,88.28 1030.72,86.16 1031.67,84.12 1032.61,82.16 1033.55,80.31 1034.5,78.56 1035.44,76.94 1036.39,75.43 1037.33,74.06 1038.27,72.84 1039.22,71.75 1040.16,70.83 1041.11,70.05 1042.05,69.44 1042.99,69 1043.94,68.71 1044.88,68.6 1045.82,68.66 1046.77,68.88 1047.71,69.27 1048.66,69.83 1049.6,70.55 1050.54,71.42 1051.49,72.45 1052.43,73.63 1053.38,74.96 1054.32,76.41 1055.26,78 1056.21,79.71 1057.15,81.53 1058.1,83.45 1059.04,85.46 1059.98,87.56 1060.93,89.73 1061.87,91.96 1062.81,94.23 1063.76,96.55 1064.7,98.89 1065.65,101.25 1066.59,103.6 1067.53,105.95 1068.48,108.27 1069.42,110.57 1070.37,112.81 1071.31,115 1072.25,117.12 1073.2,119.16 1074.14,121.11 1075.08,122.96 1076.03,124.7 1076.97,126.32 1077.92,127.82 1078.86,129.18 1079.8,130.41 1080.75,131.48 1081.69,132.41 1082.64,133.17 1083.58,133.78 1084.52,134.22 1085.47,134.49 1086.41,134.6 1087.35,134.54 1088.3,134.31 1089.24,133.91 1090.19,133.35 1091.13,132.62 1092.07,131.74 1093.02,130.7 1093.96,129.52 1094.91,128.19 1095.85,126.73 1096.79,125.14 1097.74,123.43 1098.68,121.6 1099.62,119.68 1100.57,117.66 1101.51,115.56 1102.46,113.39 1103.4,111.16 1104.34,108.88 1105.29,106.56 1106.23,104.22 1107.18,101.87 1108.12,99.51 1109.06,97.16 1110.01,94.84 1110.95,92.55 1111.89,90.31 1112.84,88.12 1113.78,86.01 1114.73,83.97 1115.67,82.02 1116.61,80.18 1117.56,78.44 1118.5,76.82 1119.45,75.33 1120.39,73.97 1121.33,72.75 1122.28,71.68 1123.22,70.76 1124.17,70 1125.11,69.4 1126.05,68.97 1127,68.7 1127.94,68.6 1128.88,68.67 1129.83,68.91 1130.77,69.31 1131.72,69.88 1132.66,70.61 1133.6,71.49 1134.55,72.54 1135.49,73.73 1136.44,75.06 1137.38,76.53 1138.32,78.12 1139.27,79.84 1140.21,81.67 1141.15,83.59 1142.1,85.61 1143.04,87.72 1143.99,89.89 1144.93,92.12 1145.87,94.4 1146.82,96.72 1147.76,99.06 1148.71,101.42 1149.65,103.78 1150.59,106.12 1151.54,108.44 1152.48,110.73 1153.42,112.97 1154.37,115.16 1155.31,117.27 1156.26,119.3 1157.2,121.25 1158.14,123.09 1159.09,124.82 1160.03,126.44 1160.98,127.93 1161.92,129.28 1162.86,130.49 1163.81,131.56 1164.75,132.47 1165.69,133.22 1166.64,133.82 1167.58,134.24 1168.53,134.51 1169.47,134.6 1170.41,134.53 1171.36,134.28 1172.3,133.87 1173.25,133.3 1174.19,132.56 1175.13,131.67 1176.08,130.62 1177.02,129.43 1177.97,128.09 1178.91,126.62 1179.85,125.02 1180.8,123.3 1181.74,121.46 1182.68,119.53 1183.63,117.51 1184.57,115.4 1185.52,113.23 1186.46,110.99 1187.4,108.71 1188.35,106.39 1189.29,104.05 1190.24,101.69 1191.18,99.34 1192.12,96.99 1193.07,94.67 1194.01,92.38 1194.95,90.15 1195.9,87.97 1196.84,85.85 1197.79,83.82 1198.73,81.88 1199.67,80.05 1200.62,78.32 1201.56,76.71 1202.51,75.22 1203.45,73.87 1204.39,72.67 1205.34,71.61 1206.28,70.7 1207.22,69.95 1208.17,69.37 1209.11,68.94 1210.06,68.69 1211,68.6" fill="none" stroke="#1e4ca1" stroke-width="3.3" stroke-linejoin="round" stroke-linecap="butt"/>
<polyline points="550.3,218.06 551.24,218.66 552.19,219.41 553.13,220.3 554.08,221.34 555.02,222.51 555.96,223.8 556.91,225.23 557.85,226.77 558.79,228.42 559.74,230.17 560.68,232.02 561.63,233.95 562.57,235.96 563.51,238.03 564.46,240.16 565.4,242.33 566.35,244.55 567.29,246.78 568.23,249.03 569.18,251.29 570.12,253.54 571.06,255.77 572.01,257.97 572.95,260.14 573.9,262.26 574.84,264.33 575.78,266.32 576.73,268.24 577.67,270.08 578.62,271.83 579.56,273.47 580.5,275.01 581.45,276.43 582.39,277.73 583.33,278.91 584.28,279.96 585.22,280.87 586.17,281.65 587.11,282.29 588.05,282.78 589,283.13 589.94,283.34 590.89,283.4 591.83,283.32 592.77,283.1 593.72,282.75 594.66,282.25 595.61,281.63 596.55,280.87 597.49,280 598.44,279.01 599.38,277.91 600.32,276.7 601.27,275.4 602.21,274.02 603.16,272.55 604.1,271.01 605.04,269.41 605.99,267.75 606.93,266.06 607.88,264.32 608.82,262.57 609.76,260.8 610.71,259.03 611.65,257.26 612.59,255.5 613.54,253.78 614.48,252.08 615.43,250.44 616.37,248.84 617.31,247.31 618.26,245.85 619.2,244.47 620.15,243.17 621.09,241.97 622.03,240.87 622.98,239.87 623.92,238.99 624.86,238.22 625.81,237.57 626.75,237.05 627.7,236.65 628.64,236.39 629.58,236.25 630.53,236.24 631.47,236.37 632.42,236.63 633.36,237.02 634.3,237.53 635.25,238.17 636.19,238.93 637.13,239.8 638.08,240.79 639.02,241.89 639.97,243.08 640.91,244.37 641.85,245.75 642.8,247.2 643.74,248.73 644.69,250.32 645.63,251.96 646.57,253.65 647.52,255.38 648.46,257.13 649.4,258.9 650.35,260.67 651.29,262.44 652.24,264.2 653.18,265.93 654.12,267.63 655.07,269.29 656.01,270.9 656.96,272.44 657.9,273.91 658.84,275.31 659.79,276.61 660.73,277.83 661.68,278.93 662.62,279.93 663.56,280.82 664.51,281.58 665.45,282.21 666.39,282.71 667.34,283.08 668.28,283.31 669.23,283.4 670.17,283.35 671.11,283.15 672.06,282.81 673,282.33 673.95,281.7 674.89,280.93 675.83,280.03 676.78,278.99 677.72,277.82 678.66,276.53 679.61,275.11 680.55,273.58 681.5,271.95 682.44,270.21 683.38,268.38 684.33,266.46 685.27,264.47 686.22,262.41 687.16,260.3 688.1,258.13 689.05,255.93 689.99,253.7 690.93,251.45 691.88,249.2 692.82,246.94 693.77,244.71 694.71,242.49 695.65,240.31 696.6,238.18 697.54,236.11 698.49,234.09 699.43,232.16 700.37,230.3 701.32,228.54 702.26,226.89 703.2,225.34 704.15,223.9 705.09,222.59 706.04,221.42 706.98,220.37 707.92,219.47 708.87,218.71 709.81,218.1 710.76,217.64 711.7,217.34 712.64,217.19 713.59,217.19 714.53,217.35 715.47,217.67 716.42,218.14 717.36,218.76 718.31,219.53 719.25,220.45 720.19,221.5 721.14,222.69 722.08,224.01 723.03,225.45 723.97,227.01 724.91,228.67 725.86,230.44 726.8,232.3 727.75,234.24 728.69,236.26 729.63,238.34 730.58,240.48 731.52,242.66 732.46,244.87 733.41,247.11 734.35,249.36 735.3,251.62 736.24,253.87 737.18,256.1 738.13,258.3 739.07,260.46 740.02,262.57 740.96,264.62 741.9,266.61 742.85,268.52 743.79,270.34 744.73,272.07 745.68,273.7 746.62,275.22 747.57,276.63 748.51,277.92 749.45,279.07 750.4,280.1 751.34,281 752.29,281.75 753.23,282.37 754.17,282.84 755.12,283.17 756.06,283.36 757,283.4 757.95,283.3 758.89,283.06 759.84,282.68 760.78,282.17 761.72,281.52 762.67,280.75 763.61,279.86 764.56,278.85 765.5,277.74 766.44,276.52 767.39,275.21 768.33,273.81 769.27,272.33 770.22,270.78 771.16,269.17 772.11,267.51 773.05,265.8 773.99,264.07 774.94,262.31 775.88,260.54 776.83,258.76 777.77,257 778.71,255.25 779.66,253.53 780.6,251.84 781.54,250.2 782.49,248.61 783.43,247.09 784.38,245.64 785.32,244.27 786.26,242.99 787.21,241.8 788.15,240.71 789.1,239.73 790.04,238.87 790.98,238.12 791.93,237.49 792.87,236.98 793.82,236.6 794.76,236.36 795.7,236.24 796.65,236.25 797.59,236.4 798.53,236.68 799.48,237.08 800.42,237.62 801.37,238.27 802.31,239.05 803.25,239.94 804.2,240.95 805.14,242.06 806.09,243.27 807.03,244.57 807.97,245.96 808.92,247.42 809.86,248.96 810.8,250.56 811.75,252.21 812.69,253.91 813.64,255.63 814.58,257.39 815.52,259.16 816.47,260.93 817.41,262.7 818.36,264.46 819.3,266.19 820.24,267.88 821.19,269.53 822.13,271.13 823.07,272.66 824.02,274.12 824.96,275.51 825.91,276.8 826.85,277.99 827.79,279.09 828.74,280.07 829.68,280.94 830.63,281.68 831.57,282.29 832.51,282.78 833.46,283.13 834.4,283.33 835.34,283.4 836.29,283.33 837.23,283.11 838.18,282.75 839.12,282.24 840.06,281.6 841.01,280.81 841.95,279.89 842.9,278.83 843.84,277.64 844.78,276.33 845.73,274.9 846.67,273.35 847.62,271.7 848.56,269.95 849.5,268.1 850.45,266.18 851.39,264.17 852.33,262.11 853.28,259.98 854.22,257.81 855.17,255.6 856.11,253.37 857.05,251.12 858,248.86 858.94,246.61 859.89,244.38 860.83,242.17 861.77,240 862.72,237.87 863.66,235.8 864.6,233.8 865.55,231.88 866.49,230.04 867.44,228.29 868.38,226.65 869.32,225.12 870.27,223.7 871.21,222.41 872.16,221.25 873.1,220.23 874.04,219.35 874.99,218.61 875.93,218.02 876.87,217.59 877.82,217.3 878.76,217.18 879.71,217.21 880.65,217.39 881.59,217.73 882.54,218.22 883.48,218.87 884.43,219.66 885.37,220.59 886.31,221.67 887.26,222.87 888.2,224.21 889.14,225.67 890.09,227.24 891.03,228.93 891.98,230.71 892.92,232.58 893.86,234.53 894.81,236.56 895.75,238.65 896.7,240.79 897.64,242.98 898.58,245.2 899.53,247.44 900.47,249.7 901.41,251.95 902.36,254.2 903.3,256.42 904.25,258.62 905.19,260.77 906.13,262.88 907.08,264.92 908.02,266.9 908.97,268.79 909.91,270.6 910.85,272.32 911.8,273.93 912.74,275.44 913.68,276.83 914.63,278.09 915.57,279.23 916.52,280.24 917.46,281.12 918.4,281.85 919.35,282.45 920.29,282.9 921.24,283.21 922.18,283.37 923.12,283.39 924.07,283.27 925.01,283.01 925.96,282.61 926.9,282.08 927.84,281.42 928.79,280.63 929.73,279.72 930.67,278.7 931.62,277.56 932.56,276.33 933.51,275.01 934.45,273.59 935.39,272.1 936.34,270.54 937.28,268.93 938.23,267.26 939.17,265.55 940.11,263.81 941.06,262.05 942,260.28 942.94,258.5 943.89,256.74 944.83,254.99 945.78,253.27 946.72,251.59 947.66,249.96 948.61,248.39 949.55,246.87 950.5,245.43 951.44,244.08 952.38,242.81 953.33,241.63 954.27,240.56 955.21,239.6 956.16,238.75 957.1,238.02 958.05,237.4 958.99,236.92 959.93,236.56 960.88,236.33 961.82,236.23 962.77,236.27 963.71,236.43 964.65,236.73 965.6,237.15 966.54,237.7 967.48,238.38 968.43,239.17 969.37,240.08 970.32,241.1 971.26,242.23 972.2,243.45 973.15,244.77 974.09,246.17 975.04,247.65 975.98,249.19 976.92,250.8 977.87,252.46 978.81,254.16 979.75,255.89 980.7,257.65 981.64,259.42 982.59,261.19 983.53,262.96 984.47,264.71 985.42,266.44 986.36,268.13 987.31,269.77 988.25,271.36 989.19,272.88 990.14,274.33 991.08,275.7 992.03,276.98 992.97,278.16 993.91,279.24 994.86,280.2 995.8,281.05 996.74,281.78 997.69,282.37 998.63,282.84 999.58,283.17 1000.52,283.35 1001.46,283.4 1002.41,283.31 1003.35,283.07 1004.3,282.68 1005.24,282.16 1006.18,281.49 1007.13,280.68 1008.07,279.74 1009.01,278.66 1009.96,277.46 1010.9,276.12 1011.85,274.68 1012.79,273.11 1013.73,271.45 1014.68,269.68 1015.62,267.82 1016.57,265.89 1017.51,263.87 1018.45,261.8 1019.4,259.66 1020.34,257.49 1021.28,255.28 1022.23,253.04 1023.17,250.79 1024.12,248.53 1025.06,246.28 1026,244.05 1026.95,241.85 1027.89,239.68 1028.84,237.56 1029.78,235.51 1030.72,233.52 1031.67,231.6 1032.61,229.78 1033.55,228.04 1034.5,226.42 1035.44,224.9 1036.39,223.51 1037.33,222.23 1038.27,221.09 1039.22,220.09 1040.16,219.23 1041.11,218.52 1042.05,217.95 1042.99,217.54 1043.94,217.28 1044.88,217.17 1045.82,217.22 1046.77,217.43 1047.71,217.79 1048.66,218.31 1049.6,218.97 1050.54,219.79 1051.49,220.74 1052.43,221.84 1053.38,223.06 1054.32,224.42 1055.26,225.89 1056.21,227.49 1057.15,229.18 1058.1,230.98 1059.04,232.86 1059.98,234.83 1060.93,236.86 1061.87,238.96 1062.81,241.11 1063.76,243.31 1064.7,245.53 1065.65,247.77 1066.59,250.03 1067.53,252.28 1068.48,254.52 1069.42,256.75 1070.37,258.94 1071.31,261.08 1072.25,263.18 1073.2,265.22 1074.14,267.18 1075.08,269.07 1076.03,270.86 1076.97,272.56 1077.92,274.16 1078.86,275.65 1079.8,277.02 1080.75,278.27 1081.69,279.39 1082.64,280.38 1083.58,281.23 1084.52,281.95 1085.47,282.52 1086.41,282.95 1087.35,283.24 1088.3,283.39 1089.24,283.39 1090.19,283.24 1091.13,282.96 1092.07,282.54 1093.02,281.99 1093.96,281.31 1094.91,280.5 1095.85,279.58 1096.79,278.54 1097.74,277.39 1098.68,276.14 1099.62,274.8 1100.57,273.38 1101.51,271.88 1102.46,270.31 1103.4,268.68 1104.34,267.01 1105.29,265.3 1106.23,263.55 1107.18,261.79 1108.12,260.02 1109.06,258.24 1110.01,256.48 1110.95,254.74 1111.89,253.03 1112.84,251.35 1113.78,249.73 1114.73,248.16 1115.67,246.66 1116.61,245.23 1117.56,243.88 1118.5,242.63 1119.45,241.47 1120.39,240.41 1121.33,239.47 1122.28,238.63 1123.22,237.92 1124.17,237.32 1125.11,236.86 1126.05,236.52 1127,236.31 1127.94,236.23 1128.88,236.28 1129.83,236.47 1130.77,236.78 1131.72,237.23 1132.66,237.8 1133.6,238.49 1134.55,239.3 1135.49,240.23 1136.44,241.26 1137.38,242.4 1138.32,243.64 1139.27,244.97 1140.21,246.38 1141.15,247.87 1142.1,249.42 1143.04,251.04 1143.99,252.7 1144.93,254.41 1145.87,256.15 1146.82,257.91 1147.76,259.68 1148.71,261.45 1149.65,263.22 1150.59,264.97 1151.54,266.69 1152.48,268.37 1153.42,270.01 1154.37,271.59 1155.31,273.1 1156.26,274.54 1157.2,275.9 1158.14,277.16 1159.09,278.33 1160.03,279.39 1160.98,280.34 1161.92,281.17 1162.86,281.87 1163.81,282.45 1164.75,282.89 1165.69,283.2 1166.64,283.37 1167.58,283.4 1168.53,283.28 1169.47,283.02 1170.41,282.62 1171.36,282.07 1172.3,281.38 1173.25,280.55 1174.19,279.59 1175.13,278.49 1176.08,277.27 1177.02,275.92 1177.97,274.45 1178.91,272.88 1179.85,271.19 1180.8,269.41 1181.74,267.54 1182.68,265.59 1183.63,263.57 1184.57,261.49 1185.52,259.35 1186.46,257.16 1187.4,254.95 1188.35,252.71 1189.29,250.46 1190.24,248.2 1191.18,245.95 1192.12,243.73 1193.07,241.53 1194.01,239.37 1194.95,237.26 1195.9,235.21 1196.84,233.23 1197.79,231.33 1198.73,229.51 1199.67,227.8 1200.62,226.19 1201.56,224.69 1202.51,223.31 1203.45,222.06 1204.39,220.94 1205.34,219.96 1206.28,219.12 1207.22,218.42 1208.17,217.88 1209.11,217.49 1210.06,217.25 1211,217.17" fill="none" stroke="#7a3b99" stroke-width="3.3" stroke-linejoin="round" stroke-linecap="butt"/>
<polyline points="550.3,366.83 551.24,367.32 552.19,367.94 553.13,368.67 554.08,369.53 555.02,370.49 555.96,371.57 556.91,372.75 557.85,374.03 558.79,375.4 559.74,376.87 560.68,378.42 561.63,380.04 562.57,381.74 563.51,383.49 564.46,385.31 565.4,387.17 566.35,389.07 567.29,391.01 568.23,392.98 569.18,394.96 570.12,396.95 571.06,398.95 572.01,400.94 572.95,402.92 573.9,404.87 574.84,406.81 575.78,408.7 576.73,410.56 577.67,412.37 578.62,414.12 579.56,415.82 580.5,417.45 581.45,419.01 582.39,420.49 583.33,421.9 584.28,423.22 585.22,424.45 586.17,425.59 587.11,426.64 588.05,427.6 589,428.45 589.94,429.21 590.89,429.87 591.83,430.44 592.77,430.9 593.72,431.27 594.66,431.54 595.61,431.71 596.55,431.8 597.49,431.79 598.44,431.7 599.38,431.53 600.32,431.27 601.27,430.95 602.21,430.55 603.16,430.09 604.1,429.56 605.04,428.99 605.99,428.36 606.93,427.69 607.88,426.99 608.82,426.25 609.76,425.49 610.71,424.71 611.65,423.91 612.59,423.11 613.54,422.31 614.48,421.52 615.43,420.74 616.37,419.97 617.31,419.23 618.26,418.52 619.2,417.84 620.15,417.2 621.09,416.6 622.03,416.05 622.98,415.55 623.92,415.1 624.86,414.71 625.81,414.38 626.75,414.12 627.7,413.92 628.64,413.78 629.58,413.71 630.53,413.71 631.47,413.77 632.42,413.9 633.36,414.1 634.3,414.36 635.25,414.69 636.19,415.07 637.13,415.51 638.08,416.01 639.02,416.56 639.97,417.15 640.91,417.79 641.85,418.47 642.8,419.18 643.74,419.92 644.69,420.68 645.63,421.46 646.57,422.26 647.52,423.06 648.46,423.86 649.4,424.65 650.35,425.43 651.29,426.19 652.24,426.93 653.18,427.64 654.12,428.31 655.07,428.94 656.01,429.52 656.96,430.05 657.9,430.52 658.84,430.92 659.79,431.25 660.73,431.51 661.68,431.69 662.62,431.79 663.56,431.8 664.51,431.72 665.45,431.55 666.39,431.29 667.34,430.93 668.28,430.47 669.23,429.92 670.17,429.26 671.11,428.51 672.06,427.66 673,426.71 673.95,425.67 674.89,424.54 675.83,423.31 676.78,422 677.72,420.6 678.66,419.12 679.61,417.56 680.55,415.94 681.5,414.25 682.44,412.5 683.38,410.69 684.33,408.84 685.27,406.94 686.22,405.02 687.16,403.06 688.1,401.08 689.05,399.09 689.99,397.1 690.93,395.1 691.88,393.12 692.82,391.15 693.77,389.21 694.71,387.31 695.65,385.44 696.6,383.62 697.54,381.86 698.49,380.16 699.43,378.53 700.37,376.98 701.32,375.51 702.26,374.13 703.2,372.84 704.15,371.65 705.09,370.57 706.04,369.59 706.98,368.73 707.92,367.99 708.87,367.36 709.81,366.86 710.76,366.49 711.7,366.24 712.64,366.11 713.59,366.12 714.53,366.25 715.47,366.51 716.42,366.9 717.36,367.41 718.31,368.04 719.25,368.79 720.19,369.66 721.14,370.64 722.08,371.74 723.03,372.93 723.97,374.23 724.91,375.61 725.86,377.09 726.8,378.65 727.75,380.29 728.69,381.99 729.63,383.76 730.58,385.58 731.52,387.45 732.46,389.36 733.41,391.3 734.35,393.27 735.3,395.25 736.24,397.24 737.18,399.24 738.13,401.23 739.07,403.21 740.02,405.16 740.96,407.09 741.9,408.98 742.85,410.83 743.79,412.63 744.73,414.38 745.68,416.06 746.62,417.68 747.57,419.23 748.51,420.71 749.45,422.1 750.4,423.4 751.34,424.62 752.29,425.75 753.23,426.79 754.17,427.73 755.12,428.57 756.06,429.32 757,429.96 757.95,430.51 758.89,430.96 759.84,431.31 760.78,431.57 761.72,431.73 762.67,431.8 763.61,431.79 764.56,431.68 765.5,431.5 766.44,431.23 767.39,430.89 768.33,430.49 769.27,430.01 770.22,429.48 771.16,428.9 772.11,428.27 773.05,427.59 773.99,426.88 774.94,426.14 775.88,425.37 776.83,424.59 777.77,423.8 778.71,423 779.66,422.2 780.6,421.4 781.54,420.62 782.49,419.86 783.43,419.12 784.38,418.41 785.32,417.74 786.26,417.11 787.21,416.51 788.15,415.97 789.1,415.48 790.04,415.04 790.98,414.66 791.93,414.34 792.87,414.08 793.82,413.89 794.76,413.76 795.7,413.71 796.65,413.71 797.59,413.79 798.53,413.93 799.48,414.13 800.42,414.41 801.37,414.74 802.31,415.13 803.25,415.58 804.2,416.09 805.14,416.64 806.09,417.24 807.03,417.89 807.97,418.57 808.92,419.28 809.86,420.03 810.8,420.79 811.75,421.58 812.69,422.37 813.64,423.17 814.58,423.97 815.52,424.77 816.47,425.54 817.41,426.31 818.36,427.04 819.3,427.74 820.24,428.41 821.19,429.03 822.13,429.61 823.07,430.12 824.02,430.58 824.96,430.97 825.91,431.3 826.85,431.54 827.79,431.71 828.74,431.8 829.68,431.8 830.63,431.7 831.57,431.52 832.51,431.24 833.46,430.87 834.4,430.4 835.34,429.83 836.29,429.16 837.23,428.39 838.18,427.53 839.12,426.57 840.06,425.51 841.01,424.36 841.95,423.12 842.9,421.8 843.84,420.38 844.78,418.9 845.73,417.33 846.67,415.7 847.62,413.99 848.56,412.24 849.5,410.42 850.45,408.56 851.39,406.66 852.33,404.73 853.28,402.77 854.22,400.79 855.17,398.8 856.11,396.8 857.05,394.81 858,392.83 858.94,390.87 859.89,388.93 860.83,387.03 861.77,385.17 862.72,383.36 863.66,381.61 864.6,379.92 865.55,378.3 866.49,376.76 867.44,375.3 868.38,373.93 869.32,372.66 870.27,371.48 871.21,370.42 872.16,369.46 873.1,368.62 874.04,367.89 874.99,367.28 875.93,366.8 876.87,366.44 877.82,366.21 878.76,366.11 879.71,366.13 880.65,366.28 881.59,366.56 882.54,366.96 883.48,367.49 884.43,368.14 885.37,368.91 886.31,369.8 887.26,370.8 888.2,371.9 889.14,373.12 890.09,374.42 891.03,375.83 891.98,377.32 892.92,378.89 893.86,380.53 894.81,382.25 895.75,384.02 896.7,385.85 897.64,387.73 898.58,389.64 899.53,391.59 900.47,393.56 901.41,395.54 902.36,397.54 903.3,399.53 904.25,401.52 905.19,403.49 906.13,405.45 907.08,407.37 908.02,409.25 908.97,411.1 909.91,412.89 910.85,414.63 911.8,416.31 912.74,417.92 913.68,419.45 914.63,420.92 915.57,422.29 916.52,423.59 917.46,424.8 918.4,425.91 919.35,426.93 920.29,427.86 921.24,428.69 922.18,429.42 923.12,430.05 924.07,430.58 925.01,431.02 925.96,431.36 926.9,431.6 927.84,431.75 928.79,431.81 929.73,431.78 930.67,431.66 931.62,431.46 932.56,431.19 933.51,430.84 934.45,430.42 935.39,429.94 936.34,429.4 937.28,428.81 938.23,428.17 939.17,427.49 940.11,426.77 941.06,426.03 942,425.26 942.94,424.47 943.89,423.68 944.83,422.88 945.78,422.08 946.72,421.29 947.66,420.51 948.61,419.75 949.55,419.02 950.5,418.31 951.44,417.64 952.38,417.02 953.33,416.43 954.27,415.89 955.21,415.41 956.16,414.98 957.1,414.61 958.05,414.3 958.99,414.05 959.93,413.87 960.88,413.75 961.82,413.7 962.77,413.72 963.71,413.8 964.65,413.95 965.6,414.17 966.54,414.45 967.48,414.79 968.43,415.19 969.37,415.65 970.32,416.16 971.26,416.73 972.2,417.33 973.15,417.99 974.09,418.67 975.04,419.39 975.98,420.14 976.92,420.91 977.87,421.69 978.81,422.49 979.75,423.29 980.7,424.09 981.64,424.88 982.59,425.66 983.53,426.42 984.47,427.15 985.42,427.84 986.36,428.5 987.31,429.12 988.25,429.69 989.19,430.2 990.14,430.64 991.08,431.03 992.03,431.34 992.97,431.57 993.91,431.73 994.86,431.8 995.8,431.79 996.74,431.68 997.69,431.49 998.63,431.19 999.58,430.81 1000.52,430.32 1001.46,429.74 1002.41,429.05 1003.35,428.27 1004.3,427.39 1005.24,426.42 1006.18,425.35 1007.13,424.18 1008.07,422.93 1009.01,421.59 1009.96,420.17 1010.9,418.67 1011.85,417.09 1012.79,415.45 1013.73,413.74 1014.68,411.97 1015.62,410.15 1016.57,408.29 1017.51,406.38 1018.45,404.44 1019.4,402.48 1020.34,400.5 1021.28,398.5 1022.23,396.51 1023.17,394.52 1024.12,392.54 1025.06,390.58 1026,388.65 1026.95,386.75 1027.89,384.9 1028.84,383.1 1029.78,381.35 1030.72,379.67 1031.67,378.07 1032.61,376.54 1033.55,375.09 1034.5,373.74 1035.44,372.48 1036.39,371.32 1037.33,370.27 1038.27,369.33 1039.22,368.5 1040.16,367.79 1041.11,367.2 1042.05,366.74 1042.99,366.4 1043.94,366.19 1044.88,366.1 1045.82,366.14 1046.77,366.31 1047.71,366.61 1048.66,367.03 1049.6,367.58 1050.54,368.25 1051.49,369.04 1052.43,369.94 1053.38,370.95 1054.32,372.08 1055.26,373.3 1056.21,374.62 1057.15,376.04 1058.1,377.54 1059.04,379.12 1059.98,380.78 1060.93,382.5 1061.87,384.29 1062.81,386.12 1063.76,388.01 1064.7,389.93 1065.65,391.88 1066.59,393.85 1067.53,395.84 1068.48,397.83 1069.42,399.83 1070.37,401.81 1071.31,403.78 1072.25,405.73 1073.2,407.65 1074.14,409.53 1075.08,411.36 1076.03,413.15 1076.97,414.88 1077.92,416.55 1078.86,418.15 1079.8,419.67 1080.75,421.12 1081.69,422.49 1082.64,423.77 1083.58,424.97 1084.52,426.07 1085.47,427.08 1086.41,427.99 1087.35,428.8 1088.3,429.52 1089.24,430.14 1090.19,430.65 1091.13,431.07 1092.07,431.4 1093.02,431.63 1093.96,431.76 1094.91,431.81 1095.85,431.76 1096.79,431.63 1097.74,431.43 1098.68,431.14 1099.62,430.78 1100.57,430.35 1101.51,429.86 1102.46,429.32 1103.4,428.72 1104.34,428.07 1105.29,427.38 1106.23,426.66 1107.18,425.92 1108.12,425.14 1109.06,424.36 1110.01,423.56 1110.95,422.76 1111.89,421.96 1112.84,421.17 1113.78,420.4 1114.73,419.64 1115.67,418.91 1116.61,418.21 1117.56,417.55 1118.5,416.93 1119.45,416.35 1120.39,415.82 1121.33,415.34 1122.28,414.92 1123.22,414.56 1124.17,414.26 1125.11,414.02 1126.05,413.85 1127,413.74 1127.94,413.7 1128.88,413.73 1129.83,413.82 1130.77,413.98 1131.72,414.21 1132.66,414.5 1133.6,414.85 1134.55,415.26 1135.49,415.72 1136.44,416.24 1137.38,416.81 1138.32,417.43 1139.27,418.08 1140.21,418.78 1141.15,419.5 1142.1,420.25 1143.04,421.02 1143.99,421.81 1144.93,422.61 1145.87,423.41 1146.82,424.21 1147.76,425 1148.71,425.77 1149.65,426.52 1150.59,427.25 1151.54,427.94 1152.48,428.6 1153.42,429.21 1154.37,429.76 1155.31,430.27 1156.26,430.7 1157.2,431.08 1158.14,431.38 1159.09,431.6 1160.03,431.75 1160.98,431.81 1161.92,431.78 1162.86,431.66 1163.81,431.45 1164.75,431.14 1165.69,430.74 1166.64,430.24 1167.58,429.64 1168.53,428.94 1169.47,428.15 1170.41,427.26 1171.36,426.27 1172.3,425.18 1173.25,424.01 1174.19,422.74 1175.13,421.39 1176.08,419.95 1177.02,418.44 1177.97,416.86 1178.91,415.2 1179.85,413.48 1180.8,411.71 1181.74,409.88 1182.68,408.01 1183.63,406.1 1184.57,404.15 1185.52,402.19 1186.46,400.2 1187.4,398.21 1188.35,396.21 1189.29,394.23 1190.24,392.25 1191.18,390.29 1192.12,388.37 1193.07,386.48 1194.01,384.63 1194.95,382.84 1195.9,381.1 1196.84,379.43 1197.79,377.84 1198.73,376.32 1199.67,374.89 1200.62,373.55 1201.56,372.3 1202.51,371.16 1203.45,370.12 1204.39,369.2 1205.34,368.39 1206.28,367.7 1207.22,367.13 1208.17,366.68 1209.11,366.36 1210.06,366.17 1211,366.1" fill="none" stroke="#c8171f" stroke-width="3.3" stroke-linejoin="round" stroke-linecap="butt"/>
<line x1="550.15" y1="46" x2="550.15" y2="469" stroke="#231f20" stroke-width="1.45"/>
</svg></body></html>
